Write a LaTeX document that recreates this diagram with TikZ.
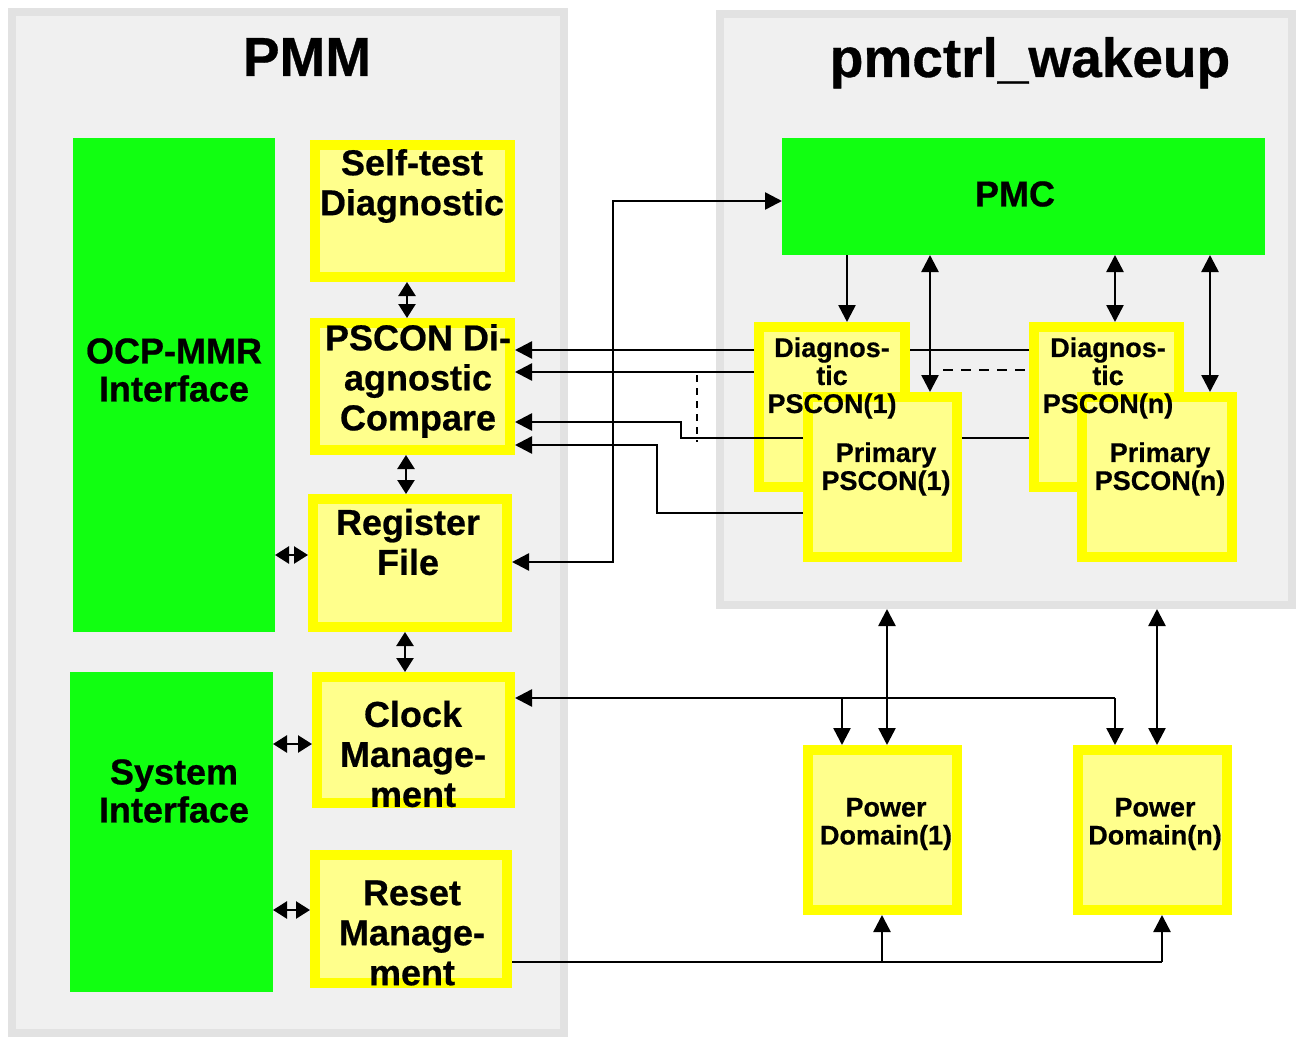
\documentclass[tikz,border=0pt]{standalone}
\usepackage{fontspec}
\setmainfont{Liberation Sans}[BoldFeatures={FakeBold=0.6}]
\usetikzlibrary{arrows.meta,fit}
\definecolor{grn}{RGB}{17,255,17}
\definecolor{ylw}{RGB}{255,255,0}
\definecolor{lyw}{RGB}{255,255,140}
\definecolor{pnl}{RGB}{240,240,240}
\definecolor{pnlb}{RGB}{226,226,226}
\begin{document}
\begin{tikzpicture}[x=0.5pt,y=-0.5pt,
 panel/.style={draw=pnlb, fill=pnl, line width=4pt, inner sep=0pt},
 ybox/.style={draw=ylw, line width=5pt, fill=lyw, inner sep=0pt},
 gbox/.style={fill=grn, draw=none, inner sep=0pt, outer sep=0pt},
 title/.style={font=\bfseries\fontsize{27.5}{30}\selectfont, anchor=base},
 big/.style={font=\bfseries\fontsize{18}{20}\selectfont, align=center},
 bigg/.style={font=\bfseries\fontsize{18}{19}\selectfont, align=center},
 small/.style={font=\bfseries\fontsize{13.5}{14}\selectfont, align=center},
 conn/.style={line width=1.25pt},
 arr/.style={conn, -{Triangle[length=8.5pt,width=8.5pt]}},
 darr/.style={conn, {Triangle[length=8.5pt,width=8.5pt]}-{Triangle[length=8.5pt,width=8.5pt]}},
 sdarr/.style={conn, {Triangle[length=7pt,width=8.5pt]}-{Triangle[length=7pt,width=8.5pt]}},
]
\useasboundingbox[fill=white] (0,0) rectangle (1296,1038);

% panels
\node[panel, fit={(12,12) (564,1033)}] (pmm) {};
\node[panel, fit={(720,14) (1292,605)}] (wk) {};
\node[title] at (307,76) {PMM};
\node[title] at (1030,77) {pmctrl\_wakeup};

% green blocks
\node[gbox, fit={(73,138) (275,632)}] (ocp) {};
\node[gbox, fit={(70,672) (273,992)}] (sys) {};
\node[gbox, fit={(782,138) (1265,255)}] (pmc) {};
\node[bigg] at (174,370) {OCP-MMR\\Interface};
\node[bigg] at (174,791) {System\\Interface};
\node[big] at (1015,194) {PMC};

% PMM yellow blocks
\node[ybox, fit={(315,145) (510,277)}] (self) {};
\node[ybox, fit={(315,323) (510,450)}] (cmp) {};
\node[ybox, fit={(313,499) (507,627)}] (reg) {};
\node[ybox, fit={(317,677) (510,803)}] (clk) {};
\node[ybox, fit={(315,855) (507,983)}] (rst) {};
\node[big] at (412,186) {Self-test\\Diagnostic};
\node[big] at (418,381) {PSCON Di-\\agnostic\\Compare};
\node[big] at (408,542) {Register\\File};
\node[big] at (413,754) {Clock\\Manage-\\ment};
\node[big] at (412,933) {Reset\\Manage-\\ment};

% pmctrl_wakeup blocks
\node[ybox, fit={(759,327) (905,487)}] (d1) {};
\node[ybox, fit={(808,397) (957,557)}] (p1) {};
\node[ybox, fit={(1034,327) (1179,487)}] (dn) {};
\node[ybox, fit={(1082,397) (1232,557)}] (pn) {};
\node[small] at (832,378) {Diagnos-\\tic\\PSCON(1)};
\node[small] at (886,469) {Primary\\PSCON(1)};
\node[small] at (1108,378) {Diagnos-\\tic\\PSCON(n)};
\node[small] at (1160,469) {Primary\\PSCON(n)};

% power domains
\node[ybox, fit={(808,750) (957,910)}] (pd1) {};
\node[ybox, fit={(1078,750) (1227,910)}] (pdn) {};
\node[small] at (886,824) {Power\\Domain(1)};
\node[small] at (1155,824) {Power\\Domain(n)};

% PMM connectors
\draw[sdarr] (self.south -| 407,0) -- (cmp.north -| 407,0);
\draw[sdarr] (cmp.south -| 406,0) -- (reg.north -| 406,0);
\draw[sdarr] (reg.south -| 405,0) -- (clk.north -| 405,0);
\draw[sdarr] (ocp.east |- 0,555) -- (reg.west |- 0,555);
\draw[sdarr] (sys.east |- 0,744) -- (clk.west |- 0,744);
\draw[sdarr] (sys.east |- 0,910) -- (rst.west |- 0,910);
\draw[darr] (reg.east |- 0,562) -- (613,562) -- (613,201) -- (pmc.west |- 0,201);

% PMC connectors
\draw[arr] (pmc.south -| 847,0) -- (d1.north -| 847,0);
\draw[darr] (pmc.south -| 930,0) -- (p1.north -| 930,0);
\draw[darr] (pmc.south -| 1115,0) -- (dn.north -| 1115,0);
\draw[darr] (pmc.south -| 1210,0) -- (pn.north -| 1210,0);

% PSCON to compare
\draw[conn] (dn.west |- 0,350) -- (d1.east |- 0,350);
\draw[arr] (d1.west |- 0,350) -- (cmp.east |- 0,350);
\draw[arr] (d1.west |- 0,372) -- (cmp.east |- 0,372);
\draw[conn, dash pattern=on 5pt off 4pt] (943,370) -- (dn.west |- 0,370);
\draw[conn, dash pattern=on 3.5pt off 3pt] (697,375) -- (697,442);
\draw[conn] (dn.west |- 0,438) -- (p1.east |- 0,438);
\draw[arr] (p1.west |- 0,438) -- (681,438) -- (681,422) -- (cmp.east |- 0,422);
\draw[arr] (p1.west |- 0,513) -- (657,513) -- (657,445) -- (cmp.east |- 0,445);

% power domain connectors
\draw[darr] (wk.south -| 887,0) -- (pd1.north -| 887,0);
\draw[darr] (wk.south -| 1157,0) -- (pdn.north -| 1157,0);
\draw[arr] (1115,698) -- (clk.east |- 0,698);
\draw[arr] (842,698) -- (pd1.north -| 842,0);
\draw[arr] (1115,698) -- (pdn.north -| 1115,0);
\draw[conn] (rst.east |- 0,962) -- (1162,962);
\draw[arr] (882,962) -- (pd1.south -| 882,0);
\draw[arr] (1162,962) -- (pdn.south -| 1162,0);
\end{tikzpicture}
\end{document}
